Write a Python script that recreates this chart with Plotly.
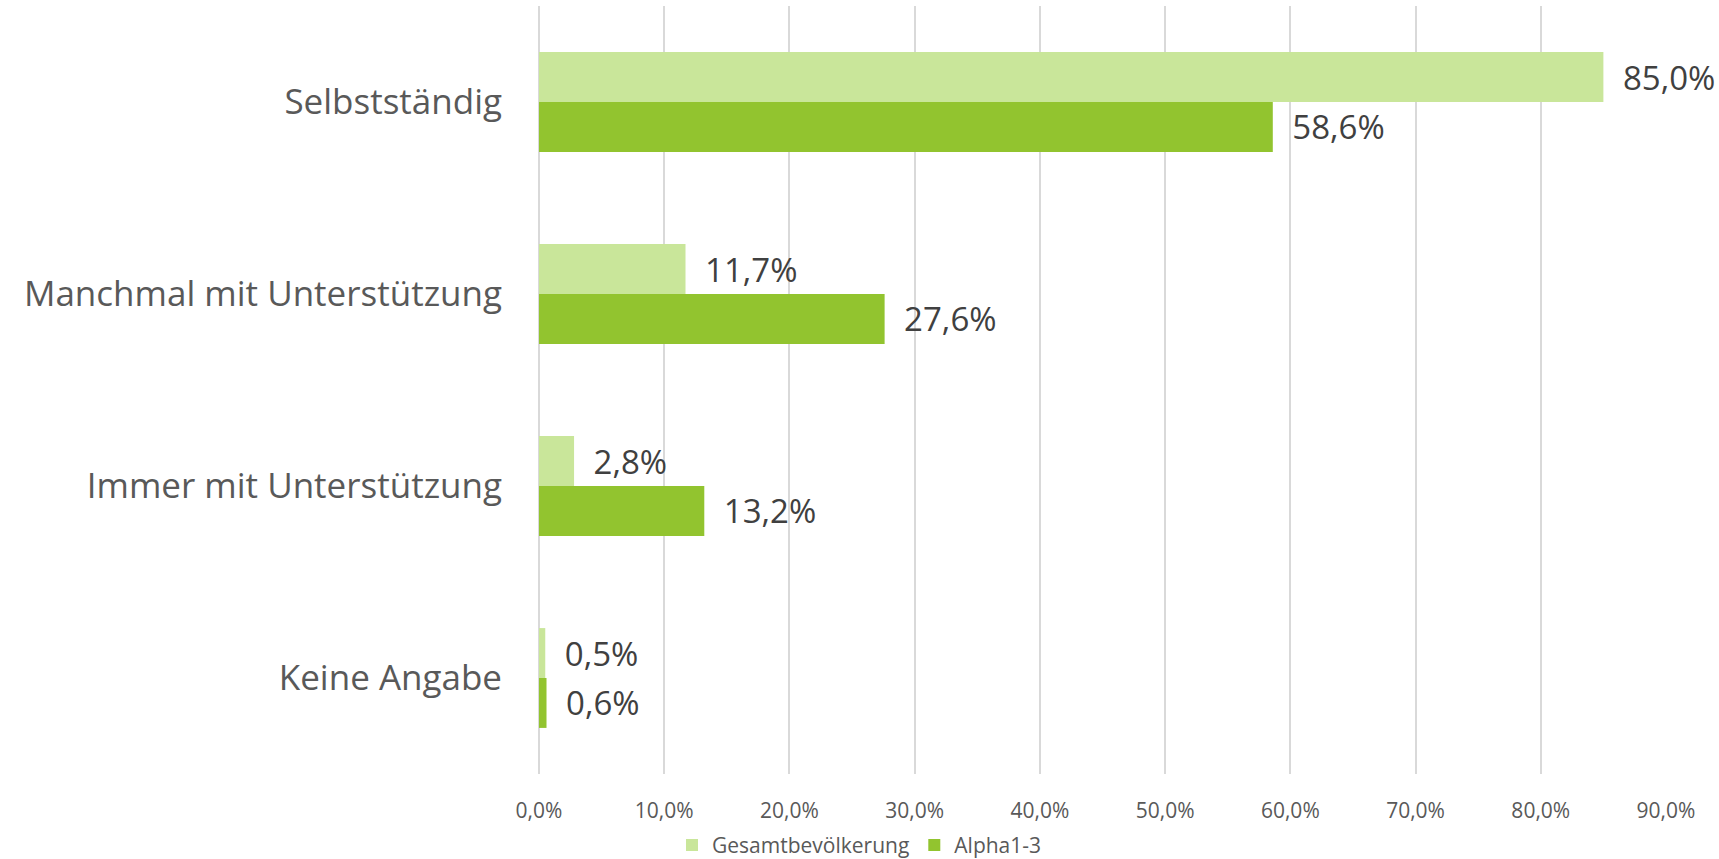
import plotly.graph_objects as go

categories = ["Selbstständig", "Manchmal mit Unterstützung", "Immer mit Unterstützung", "Keine Angabe"]
gesamt = [85.0, 11.7, 2.8, 0.5]
alpha = [58.6, 27.6, 13.2, 0.6]
x_ticks = [0, 10, 20, 30, 40, 50, 60, 70, 80, 90]
x_tick_text = ["0,0%", "10,0%", "20,0%", "30,0%", "40,0%", "50,0%", "60,0%", "70,0%", "80,0%", "90,0%"]

FONT = "Open Sans"
LIGHT = "#C9E69A"
DARK = "#92C42F"
LABEL_TEMPLATE = "\u2002%{x:.1f}%"

fig = go.Figure()
fig.add_trace(go.Bar(
    name="Gesamtbevölkerung", y=categories, x=gesamt, orientation="h",
    marker=dict(color=LIGHT, line=dict(width=0)),
    text=gesamt, texttemplate=LABEL_TEMPLATE, textposition="outside",
    textfont=dict(size=33, color="#404040", family=FONT), cliponaxis=False,
))
fig.add_trace(go.Bar(
    name="Alpha1-3", y=categories, x=alpha, orientation="h",
    marker=dict(color=DARK, line=dict(width=0)),
    text=alpha, texttemplate=LABEL_TEMPLATE, textposition="outside",
    textfont=dict(size=33, color="#404040", family=FONT), cliponaxis=False,
))

fig.update_layout(
    width=1719, height=859,
    margin=dict(l=539, r=53, t=6, b=85, autoexpand=False),
    paper_bgcolor="white", plot_bgcolor="white",
    barmode="group", bargap=0.48, bargroupgap=0,
    separators=",.",
    font=dict(family=FONT, color="#595959"),
    xaxis=dict(
        range=[0, 90], tickmode="array", tickvals=x_ticks, ticktext=x_tick_text,
        showgrid=True, gridcolor="#D9D9D9", gridwidth=2,
        zeroline=True, zerolinecolor="#D9D9D9", zerolinewidth=2,
        showline=False, tickfont=dict(size=21, color="#595959"),
        ticks="", ticklabelstandoff=22, automargin=False,
    ),
    yaxis=dict(
        autorange="reversed", showgrid=False, showline=False, zeroline=False,
        tickfont=dict(size=35, color="#595959"), ticklabelstandoff=36,
        automargin=False,
    ),
    legend=dict(
        orientation="h", x=0.5, xref="container", xanchor="center",
        y=0.016, yref="container", yanchor="middle",
        font=dict(size=21, color="#595959"), traceorder="normal",
        itemwidth=30,
    ),
    showlegend=True,
)

fig.write_html("out.html")
